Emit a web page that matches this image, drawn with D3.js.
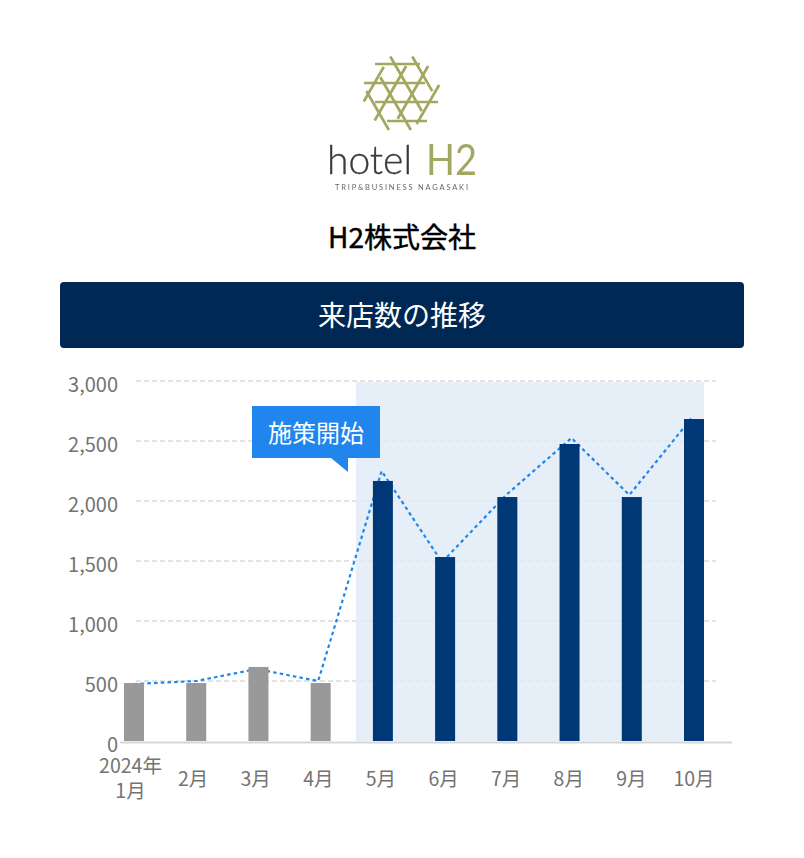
<!DOCTYPE html>
<html><head><meta charset="utf-8">
<script src="https://cdn.jsdelivr.net/npm/d3@7"></script>
<style>html,body{margin:0;padding:0;background:#fff}svg{display:block}text{font-family:"Noto Sans CJK JP","Noto Sans",sans-serif}</style>
</head><body><svg id="c" width="804" height="858"></svg>
<script>
const months=["2024年\n1月","2月","3月","4月","5月","6月","7月","8月","9月","10月"];
const barValues=[483,483,617,483,2167,1533,2033,2475,2033,2683];
const lineValues=[475,500,600,500,2250,1490,2050,2525,2050,2690];
const lineMonthPos=[0,1,1.97,2.96,3.98,4.95,5.98,7.03,7.96,8.96];
const yTicks=[0,500,1000,1500,2000,2500,3000];
const shadedFrom=4;
const company="H2株式会社", title="来店数の推移", note="施策開始";

const svg=d3.select("#c");
const olive="#a3a860";

// logo
const defs=svg.append("defs");
defs.append("filter").attr("id","soft").append("feGaussianBlur").attr("stdDeviation",0.45);
const logo=svg.append("g").attr("filter","url(#soft)");
const weave=[{y:-29,a:-26,b:19},{y:-10,a:-37,b:24},{y:9,a:-26,b:37},{y:28,a:-14,b:26}];
[0,120,240].forEach(r=>{
  const g=logo.append("g").attr("transform",`translate(401,93) rotate(${r})`);
  g.selectAll("line").data(weave).join("line")
   .attr("x1",d=>d.a).attr("x2",d=>d.b).attr("y1",d=>d.y).attr("y2",d=>d.y)
   .attr("stroke",olive).attr("stroke-width",2.7);
});
logo.append("text").attr("x",327).attr("y",174).attr("font-size",39).attr("font-weight",300)
 .style("font-family","Lato").attr("fill","#3c3a3a").attr("stroke","#3c3a3a").attr("stroke-width",.3)
 .attr("textLength",85).text("hotel");
logo.append("text").attr("x",426).attr("y",175).attr("font-size",42).attr("font-weight",400)
 .style("font-family","Lato").attr("fill",olive)
 .attr("textLength",51).attr("lengthAdjust","spacingAndGlyphs").text("H2");
logo.append("text").attr("x",335).attr("y",190).attr("font-size",7.5)
 .style("font-family","Lato").attr("fill","#666").attr("textLength",133).text("TRIP&BUSINESS  NAGASAKI");

svg.append("text").attr("x",402).attr("y",248).attr("text-anchor","middle")
 .attr("font-size",28).attr("fill","#000").attr("stroke","#000").attr("stroke-width",0.45).text(company);
svg.append("rect").attr("x",60).attr("y",282).attr("width",684).attr("height",66).attr("rx",4).attr("fill","#002855");
svg.append("text").attr("x",402).attr("y",326).attr("text-anchor","middle")
 .attr("font-size",28).attr("fill","#fff").text(title);

// scales
const y=d3.scaleLinear().domain([0,3000]).range([741,381]);
const x=d3.scaleLinear().domain([0,9]).range([134,694]);
const xLabel=d3.scaleLinear().domain([0,9]).range([130.5,694]);
const barW=20;

// grid
svg.append("g").selectAll("line").data(yTicks.filter(d=>d>0)).join("line")
 .attr("x1",136).attr("x2",716).attr("y1",d=>y(d)).attr("y2",d=>y(d))
 .attr("stroke","#e3e3e3").attr("stroke-width",2).attr("stroke-dasharray","5 3");

// shaded period
svg.append("rect").attr("x",x(shadedFrom)-27).attr("y",y(3000)+1)
 .attr("width",x(9)+barW/2-x(shadedFrom)+27).attr("height",y(0)-y(3000)-1)
 .attr("fill","#e0eaf6").attr("fill-opacity",.8);

// dotted line (sits behind the bars)
const line=d3.line().x((d,i)=>x(lineMonthPos[i])).y(d=>y(d));
svg.append("path").datum(lineValues).attr("d",line).attr("fill","none")
 .attr("stroke","#2086ee").attr("stroke-width",2.2).attr("stroke-dasharray","3.5 3.2");

// bars
svg.append("g").selectAll("rect").data(barValues).join("rect")
 .attr("x",(d,i)=>x(i)-barW/2).attr("width",barW)
 .attr("y",d=>y(d)).attr("height",d=>y(0)-y(d))
 .attr("fill",(d,i)=>i>=shadedFrom?"#003777":"#999999");

// axis baseline
svg.append("line").attr("x1",120).attr("x2",732).attr("y1",742.5).attr("y2",742.5)
 .attr("stroke","#d6d6d6").attr("stroke-width",2);

// y labels
svg.append("g").selectAll("text").data(yTicks).join("text")
 .attr("x",118).attr("y",d=>y(d)+10.5).attr("text-anchor","end")
 .attr("font-size",20).attr("fill","#737373").text(d3.format(","));

// x labels
months.forEach((m,i)=>{
  const parts=m.split("\n");
  const t=svg.append("text").attr("text-anchor","middle").attr("font-size",19.5).attr("fill","#737373");
  parts.forEach((p,k)=>t.append("tspan").attr("x",xLabel(i)).attr("y",parts.length>1?773+k*25:786).text(p));
});

// callout
const c=svg.append("g");
const p=d3.path();
p.moveTo(252,406);p.lineTo(380,406);p.lineTo(380,458);p.lineTo(348,458);p.lineTo(348,472);p.lineTo(331,458);p.lineTo(252,458);p.closePath();
c.append("path").attr("d",p.toString()).attr("fill","#2086ee");
c.append("text").attr("x",316).attr("y",442).attr("text-anchor","middle").attr("font-size",24).attr("fill","#fff").text(note);
</script></body></html>
